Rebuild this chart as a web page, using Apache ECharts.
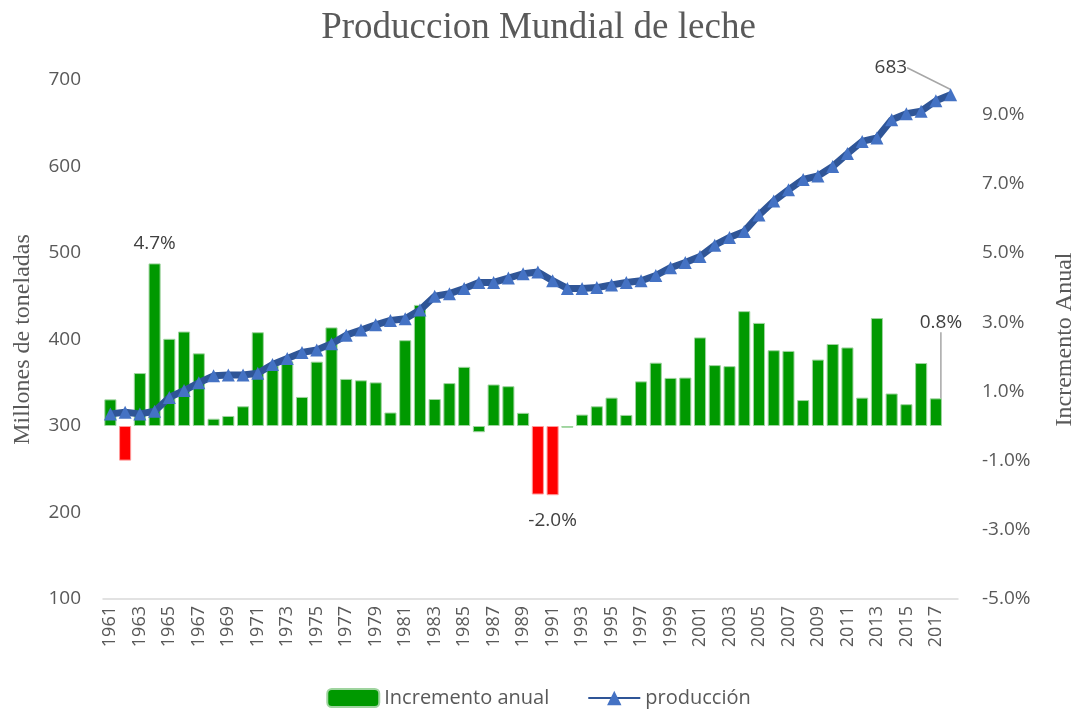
<!DOCTYPE html>
<html>
<head>
<meta charset="utf-8">
<script src="https://cdn.jsdelivr.net/npm/echarts@6/dist/echarts.min.js"></script>
<style>
  html, body { margin: 0; padding: 0; background: #fff; }
  #main { width: 1077px; height: 713px; }
</style>
</head>
<body>
<div id="main"></div>
<script>
// categorias (años)
var anios = ['1961','1962','1963','1964','1965','1966','1967','1968','1969','1970',
  '1971','1972','1973','1974','1975','1976','1977','1978','1979','1980',
  '1981','1982','1983','1984','1985','1986','1987','1988','1989','1990',
  '1991','1992','1993','1994','1995','1996','1997','1998','1999','2000',
  '2001','2002','2003','2004','2005','2006','2007','2008','2009','2010',
  '2011','2012','2013','2014','2015','2016','2017','2018'];

// incremento anual (%)
var incremento = [0.77,-1.00,1.53,4.70,2.52,2.73,2.10,0.21,0.29,0.57,
  2.71,1.75,1.87,0.84,1.86,2.85,1.36,1.32,1.26,0.39,
  2.48,3.50,0.78,1.24,1.71,-0.18,1.20,1.15,0.38,-1.98,
  -2.00,-0.05,0.33,0.57,0.82,0.32,1.29,1.83,1.39,1.40,
  2.56,1.76,1.73,3.32,2.98,2.19,2.17,0.75,1.92,2.37,
  2.27,0.82,3.12,0.94,0.63,1.82,0.80];

// produccion (millones de toneladas)
var produccion = [314,316,314,317,333,341,350,358,359,359,
  361,371,378,385,388,395,405,411,417,422,
  424,434,450,453,459,466,466,471,476,478,
  468,459,459,460,463,466,468,474,483,489,
  496,509,518,525,544,560,573,585,589,600,
  615,629,633,654,661,664,676,683];

var aniosRojos = ['1962','1990','1991'];   // barras en rojo
var aniosEtiqueta = ['1964','1991','2017']; // barras con etiqueta

var barData = incremento.map(function (v, i) {
  var item = { value: v };
  if (aniosRojos.indexOf(anios[i]) >= 0) item.itemStyle = { color: '#ff0000', borderColor: '#ff9a9a' };
  if (aniosEtiqueta.indexOf(anios[i]) >= 0) {
    item.label = { show: true, position: v < 0 ? 'bottom' : 'top', distance: v < 0 ? 16 : 10 };
    if (anios[i] === '2017') item.labelLine = { show: true };
  }
  return item;
});

var lineData = produccion.map(function (v, i) {
  var item = { value: v };
  if (i === produccion.length - 1) {
    item.label = { show: true, position: 'left' };
    item.labelLine = { show: true };
  }
  return item;
});

var txt = '#595959';
var sans = 'Open Sans';
var serif = 'Liberation Serif';

var option = {
  animation: false,
  title: {
    text: 'Produccion Mundial de leche',
    left: 'center',
    top: 5,
    textStyle: { fontFamily: serif, fontSize: 37, fontWeight: 'normal', color: txt }
  },
  legend: {
    bottom: 0,
    left: 'center',
    itemWidth: 52,
    itemHeight: 18,
    itemGap: 38,
    textStyle: { fontFamily: sans, fontSize: 20, color: txt },
    data: ['Incremento anual', 'producción']
  },
  grid: { left: 103, right: 119, top: 80, bottom: 114, outerBoundsMode: 'none' },
  xAxis: {
    type: 'category',
    data: anios,
    axisLine: { onZero: false, lineStyle: { color: '#d9d9d9', width: 1.5 } },
    axisTick: { show: false },
    axisLabel: {
      rotate: 90, interval: 1, margin: 7,
      fontFamily: sans, fontSize: 18, color: txt
    }
  },
  yAxis: [
    {
      type: 'value', min: 100, max: 700, interval: 100,
      name: 'Millones de toneladas', nameLocation: 'middle', nameRotate: 90, nameGap: 68,
      nameTextStyle: { fontFamily: serif, fontSize: 24, color: txt },
      splitLine: { show: false },
      axisLabel: { margin: 22, fontFamily: sans, fontSize: 19, color: txt }
    },
    {
      type: 'value', min: -5, max: 10, interval: 2,
      name: 'Incremento Anual', nameLocation: 'middle', nameRotate: 90, nameGap: 95,
      nameTextStyle: { fontFamily: serif, fontSize: 24, color: txt },
      splitLine: { show: false },
      axisLabel: {
        margin: 24, fontFamily: sans, fontSize: 19, color: txt,
        showMaxLabel: false,
        formatter: function (v) { return v.toFixed(1) + '%'; }
      }
    }
  ],
  series: [
    {
      name: 'Incremento anual',
      type: 'bar',
      yAxisIndex: 1,
      barCategoryGap: '18%',
      itemStyle: { color: '#009900', borderColor: '#9fd49f', borderWidth: 1 },
      label: {
        show: false,
        fontFamily: sans, fontSize: 19, color: '#404040',
        formatter: function (p) { return p.value.toFixed(1) + '%'; }
      },
      labelLine: { show: false, lineStyle: { color: '#a6a6a6', width: 1.5 } },
      labelLayout: function (p) {
        if (anios[p.dataIndex] === '2017') return { dx: 5, dy: -56 };
        return {};
      },
      data: barData
    },
    {
      name: 'producción',
      type: 'line',
      yAxisIndex: 0,
      symbol: 'triangle',
      symbolSize: 13,
      showAllSymbol: true,
      lineStyle: { color: '#2f5597', width: 7 },
      itemStyle: { color: '#4472c4' },
      label: { show: false, fontFamily: sans, fontSize: 19, color: '#404040' },
      labelLine: { show: false, lineStyle: { color: '#a6a6a6', width: 1.5 } },
      labelLayout: function (p) {
        if (p.dataIndex === produccion.length - 1) return { dx: -32, dy: -27 };
        return {};
      },
      data: lineData,
      z: 5
    }
  ]
};

var myChart = echarts.init(document.getElementById('main'));
myChart.setOption(option);
</script>
</body>
</html>
